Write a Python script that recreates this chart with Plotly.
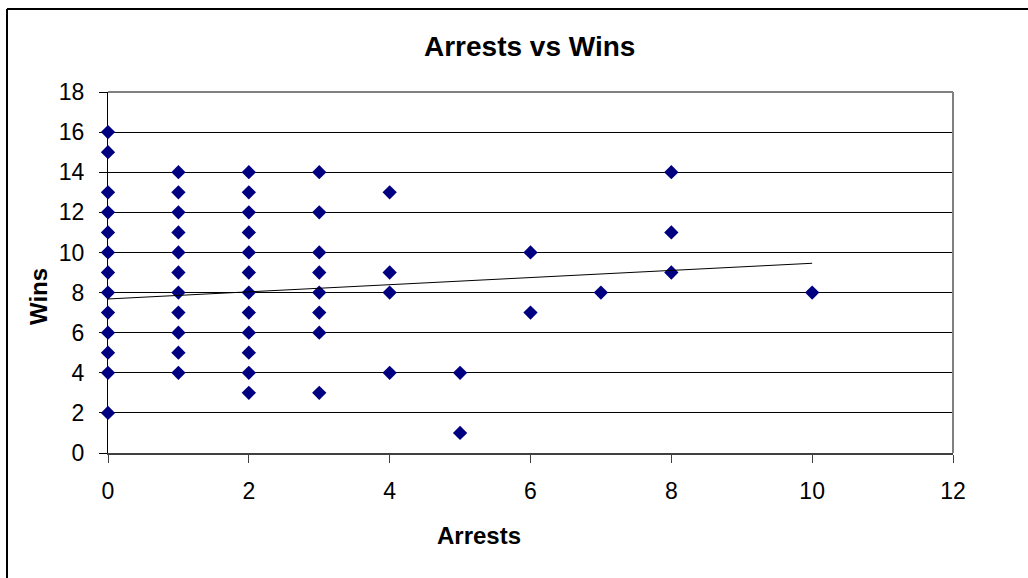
import plotly.graph_objects as go

# Arrests per player and the season wins for that player's team
arrests = (
    [0] * 13 + [1] * 11 + [2] * 12 + [3] * 8 + [4] * 4 + [5] * 2 + [6] * 2 + [7] + [8] * 3 + [10]
)
wins = (
    [16, 15, 13, 12, 11, 10, 9, 8, 7, 6, 5, 4, 2]
    + [14, 13, 12, 11, 10, 9, 8, 7, 6, 5, 4]
    + [14, 13, 12, 11, 10, 9, 8, 7, 6, 5, 4, 3]
    + [14, 12, 10, 9, 8, 7, 6, 3]
    + [13, 9, 8, 4]
    + [4, 1]
    + [10, 7]
    + [8]
    + [14, 11, 9]
    + [8]
)

# Linear trendline end points
trend_x = [0, 10]
trend_y = [7.68, 9.46]

x_ticks = [0, 2, 4, 6, 8, 10, 12]
y_ticks = [0, 2, 4, 6, 8, 10, 12, 14, 16, 18]

FONT = "Liberation Sans, Arial, sans-serif"

# plot area in pixels
W, H = 1028, 578
L, R, T, B = 108, 75, 92, 125
PW, PH = W - L - R, H - T - B


def px_x(p):
    return (p - L) / PW


def px_y(p):
    return (H - B - p) / PH


fig = go.Figure()

fig.add_trace(go.Scatter(
    x=arrests, y=wins, mode="markers",
    marker=dict(symbol="diamond", size=11, color="#000080", line=dict(width=0)),
    cliponaxis=False, showlegend=False, hoverinfo="x+y",
))

fig.add_trace(go.Scatter(
    x=trend_x, y=trend_y, mode="lines",
    line=dict(color="black", width=1),
    showlegend=False, hoverinfo="skip",
))

fig.update_layout(
    width=W, height=H,
    margin=dict(l=L, r=R, t=T, b=B),
    paper_bgcolor="white", plot_bgcolor="white",
    font=dict(family=FONT, color="black"),
    showlegend=False,
)

fig.update_xaxes(
    range=[0, 12], tickvals=x_ticks, showgrid=False, zeroline=False,
    showline=True, linecolor="#404040", linewidth=2,
    ticks="outside", ticklen=8, tickcolor="#404040", tickwidth=1,
    tickfont=dict(size=23, family=FONT, color="black"),
    ticklabelstandoff=8, layer="below traces",
)

fig.update_yaxes(
    range=[0, 18], tickvals=y_ticks, showgrid=True, gridcolor="black", gridwidth=1,
    zeroline=False, showline=True, linecolor="black", linewidth=1,
    ticks="outside", ticklen=8, tickcolor="black", tickwidth=1,
    tickfont=dict(size=23, family=FONT, color="black"),
    ticklabelstandoff=10, layer="below traces",
)

# gray plot-area border on the top and right
fig.add_shape(type="line", xref="paper", yref="paper", x0=0, x1=1, y0=1, y1=1,
              line=dict(color="#808080", width=2), layer="above")
fig.add_shape(type="line", xref="paper", yref="paper", x0=1, x1=1, y0=0, y1=1,
              line=dict(color="#808080", width=2), layer="above")

# outer chart frame
fig.add_shape(type="line", xref="paper", yref="paper",
              x0=px_x(7), x1=px_x(1040), y0=px_y(9), y1=px_y(9),
              line=dict(color="black", width=2), layer="above")
fig.add_shape(type="line", xref="paper", yref="paper",
              x0=px_x(7), x1=px_x(7), y0=px_y(9), y1=px_y(590),
              line=dict(color="black", width=2), layer="above")

fig.add_annotation(text="<b>Arrests vs Wins</b>", xref="paper", yref="paper",
                   x=px_x(529), y=px_y(46), xanchor="center", yanchor="middle",
                   showarrow=False, font=dict(size=28, family=FONT, color="black"))
fig.add_annotation(text="<b>Arrests</b>", xref="paper", yref="paper",
                   x=px_x(479), y=px_y(535), xanchor="center", yanchor="middle",
                   showarrow=False, font=dict(size=24, family=FONT, color="black"))
fig.add_annotation(text="<b>Wins</b>", xref="paper", yref="paper",
                   x=px_x(38), y=px_y(297), xanchor="center", yanchor="middle",
                   textangle=-90, showarrow=False,
                   font=dict(size=24, family=FONT, color="black"))

fig.write_html("out.html")
